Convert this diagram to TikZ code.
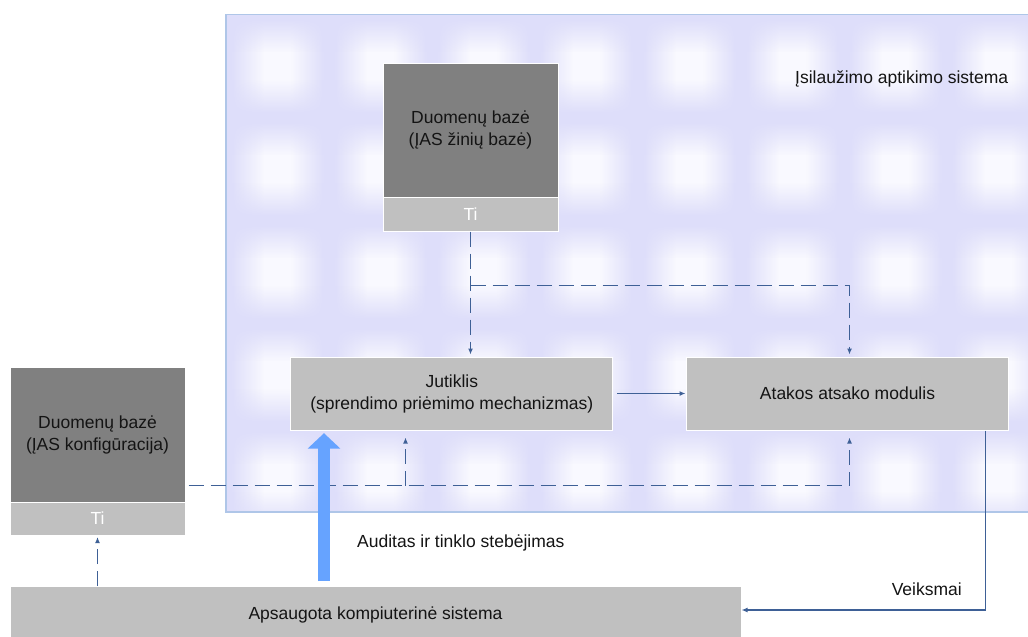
\documentclass[tikz,border=0pt]{standalone}
\usepackage{fontspec}
\setmainfont{Liberation Sans}
\usetikzlibrary{arrows.meta,fadings}

\definecolor{linkblue}{RGB}{62,96,150}
\definecolor{auditblue}{RGB}{102,163,255}
\definecolor{boxgray}{RGB}{192,192,192}
\definecolor{dbgray}{RGB}{128,128,128}
\definecolor{tileC}{RGB}{249,249,255}
\definecolor{tileE}{RGB}{222,222,250}
\definecolor{paneledge}{RGB}{175,198,232}
\definecolor{textdark}{RGB}{20,20,20}

% soft lavender bands between the background tiles
\pgfdeclarehorizontalshading{vbandshade}{100bp}{%
  color(0bp)=(black); color(25bp)=(black); color(47bp)=(white);
  color(53bp)=(white); color(75bp)=(black); color(100bp)=(black)}
\pgfdeclareverticalshading{hbandshade}{100bp}{%
  color(0bp)=(black); color(25bp)=(black); color(47bp)=(white);
  color(53bp)=(white); color(75bp)=(black); color(100bp)=(black)}
\pgfdeclarefading{vband}{\pgfuseshading{vbandshade}}
\pgfdeclarefading{hband}{\pgfuseshading{hbandshade}}

\tikzset{
  every node/.style={font=\fontsize{17.5}{22}\selectfont, text=textdark, align=center, inner sep=0pt},
  dbbox/.style={fill=dbgray, draw=white, line width=1pt, minimum width=175pt},
  tibox/.style={fill=boxgray, draw=white, line width=1pt, minimum width=175pt,
                minimum height=34pt, text=white},
  procbox/.style={fill=boxgray, draw=white, line width=1pt},
  link/.style={draw=linkblue, line width=1.4pt, -{Latex[length=6pt,width=5pt]}},
  dashlink/.style={link, dash pattern=on 15pt off 7pt},
  auditarrow/.style={draw=auditblue, line width=12pt,
                     -{Triangle[length=15.5pt,width=32pt]}},
}

\begin{document}
\begin{tikzpicture}[x=1pt,y=-1pt]
  \clip (0,0) rectangle (1028,637);
  \fill[white] (0,0) rectangle (1028,637);

  % panel of the intrusion detection system
  \begin{scope}
    \clip (226,14.5) rectangle (1040,512);
    \fill[tileC] (226,14.5) rectangle (1040,512);
    \foreach \i in {0,...,8}
      \fill[tileE, path fading=vband] ({226+103*\i-38},14.5) rectangle ({226+103*\i+38},512);
    \foreach \j in {0,...,5}
      \fill[tileE, path fading=hband] (226,{14.5+103*\j-38}) rectangle (1040,{14.5+103*\j+38});
  \end{scope}
  \draw[paneledge, line width=1.2pt] (1040,14.5) -- (226,14.5) -- (226,512) -- (1040,512);
  \node[anchor=west] (idslabel) at (795,79) {Įsilaužimo aptikimo sistema};

  % knowledge base
  \node[dbbox, minimum height=134pt] (kbdb) at (470.5,130) {Duomenų bazė\\(ĮAS žinių bazė)};
  \node[tibox] (kbti) at (470.5,214) {Ti};

  % configuration database
  \node[dbbox, minimum height=135pt] (cfgdb) at (97.5,434.5) {Duomenų bazė\\(ĮAS konfigūracija)};
  \node[tibox, minimum height=33pt] (cfgti) at (97.5,518.5) {Ti};

  % processing modules
  \node[procbox, minimum width=322pt, minimum height=73pt] (sensor) at (451.8,393.5)
       {Jutiklis\\(sprendimo priėmimo mechanizmas)};
  \node[procbox, minimum width=322pt, minimum height=73pt] (resp) at (847.5,393.5)
       {Atakos atsako modulis};
  \coordinate (respin) at (849.5,0);

  % protected host
  \node[procbox, minimum width=731pt, minimum height=56pt] (host) at (375.5,614.5)
       {Apsaugota kompiuterinė sistema};

  % knowledge base feeds both modules
  \coordinate (kbsplit) at (kbti.south |- 0,285.5);
  \draw[dashlink, shorten >=2pt] (kbti.south) -- (kbti.south |- sensor.north);
  \draw[dashlink, shorten >=2pt] (kbsplit) -| (resp.north -| respin);

  % configuration feeds both modules
  \coordinate (cfgsplit) at (cfgdb.east |- 0,485.5);
  \coordinate (cfgtap) at (405.5,485.5);
  \draw[dashlink, shorten <=3pt, shorten >=7pt] (cfgsplit) -| (resp.south -| respin);
  \draw[dashlink, shorten >=7pt] (cfgtap) -- (cfgtap |- sensor.south);

  % sensor to response
  \draw[link, shorten <=4pt, shorten >=0.5pt] (sensor.east) -- (resp.west);

  % actions back to the host
  \coordinate (vcorner) at (985.5,610);
  \draw[link] (resp.south -| vcorner) -- (vcorner) -- (host.east |- vcorner);
  \node[anchor=east] (actlabel) at (962,589) {Veiksmai};

  % host updates configuration
  \draw[dashlink, shorten >=1.5pt] (host.north -| cfgti.south) -- (cfgti.south);

  % audit data flow
  \coordinate (auditx) at (324,0);
  \draw[auditarrow, shorten <=5pt, shorten >=2.7pt] (host.north -| auditx) -- (sensor.south -| auditx);
  \node[anchor=west] (auditlabel) at (357,543) {Auditas ir tinklo stebėjimas};
\end{tikzpicture}
\end{document}
